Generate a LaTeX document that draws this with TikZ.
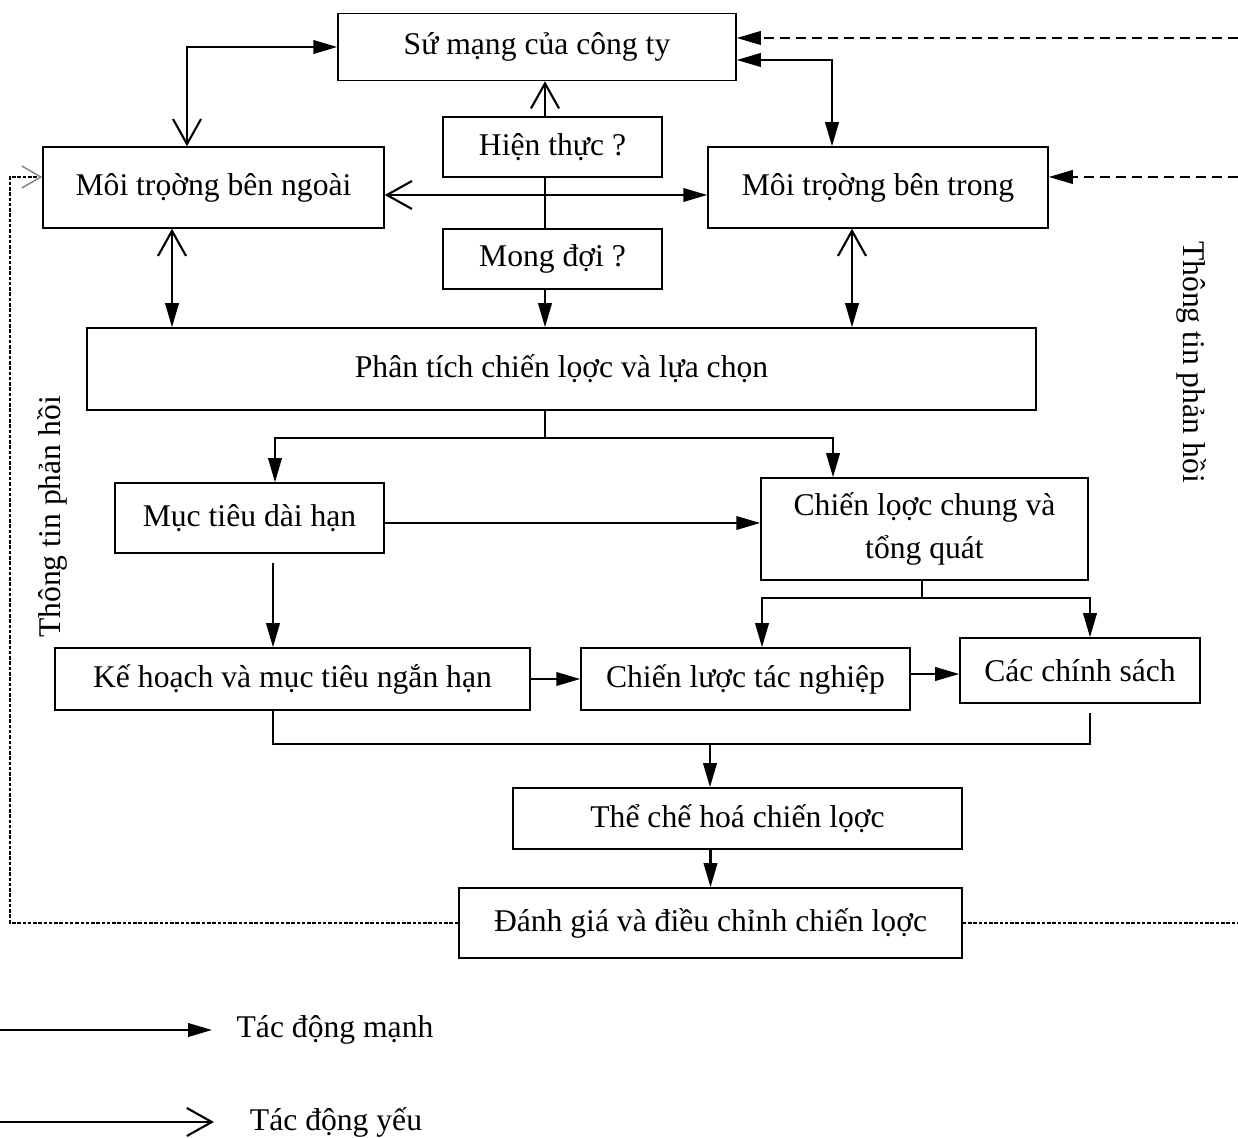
\documentclass[tikz,border=0pt]{standalone}
\usepackage{fontspec}
\setmainfont{Liberation Serif}
\usetikzlibrary{arrows.meta,positioning,calc}

\begin{document}
\begin{tikzpicture}[x=0.02cm, y=-0.02cm,
    font=\fontsize{18}{25}\selectfont,
    box/.style={draw, line width=0.9pt, align=center, inner sep=2pt},
    link/.style={line width=1.2pt},
    fbdash/.style={line width=1.2pt, dash pattern=on 0.2cm off 0.12cm},
    fbdot/.style={line width=0.8pt, dash pattern=on 2pt off 1pt},
    strong/.tip={Triangle[length=0.48cm,width=0.27cm]},
    weak/.tip={Straight Barb[length=0.5cm,width=0.56cm]},
    fbtip/.tip={Straight Barb[length=0.38cm,width=0.44cm,color=gray]}]
    \useasboundingbox (0,0) rectangle (1238,1138);

    % Top row
    \node[box, minimum width=7.96cm, minimum height=1.34cm] (suMang) at (537,47) {Sứ mạng của công ty};
    \node[box, minimum width=6.82cm, minimum height=1.62cm] (ngoai) at (213.5,187.5) {Môi trọờng bên ngoài};
    \node[box, minimum width=4.38cm, minimum height=1.2cm] (hienThuc) at (552.5,147) {Hiện thực ?};
    \node[box, minimum width=4.38cm, minimum height=1.2cm] (mongDoi) at (552.5,259) {Mong đợi ?};
    \node[box, minimum width=6.8cm, minimum height=1.62cm] (trong) at (878,187.5) {Môi trọờng bên trong};
    \node[box, minimum width=18.98cm, minimum height=1.64cm] (phanTich) at (561.5,369) {Phân tích chiến lọợc và lựa chọn};

    % Middle
    \node[box, minimum width=5.38cm, minimum height=1.4cm] (mucTieu) at (249.5,518) {Mục tiêu dài hạn};
    \node[box, minimum width=6.54cm, minimum height=2.04cm] (chungTQ) at (924.5,529) {Chiến lọợc chung và\\tổng quát};
    \node[box, minimum width=9.5cm, minimum height=1.24cm] (keHoach) at (292.5,679) {Kế hoạch và mục tiêu ngắn hạn};
    \node[box, minimum width=6.58cm, minimum height=1.24cm] (tacNghiep) at (745.5,679) {Chiến lược tác nghiệp};
    \node[box, minimum width=4.8cm, minimum height=1.3cm] (chinhSach) at (1080,670.5) {Các chính sách};

    % Bottom
    \node[box, minimum width=8.98cm, minimum height=1.22cm] (theChe) at (737.5,818.5) {Thể chế hoá chiến lọợc};
    \node[box, minimum width=10.06cm, minimum height=1.4cm] (danhGia) at (710.5,923) {Đánh giá và điều chỉnh chiến lọợc};

    % Links around the top
    \draw[link, weak-strong] ([xshift=-0.53cm]ngoai.north) |- (suMang.west);
    \draw[link, strong-strong] ([yshift=-0.26cm]suMang.east) -| ([xshift=-0.92cm]trong.north);
    \draw[link, -weak] ([xshift=-0.15cm]hienThuc.north) -- ([xshift=-0.15cm]hienThuc.north |- suMang.south);
    \draw[link] ([xshift=-0.15cm]hienThuc.south) -- ([xshift=-0.15cm]mongDoi.north);
    \draw[link, -strong] ([xshift=-0.15cm]mongDoi.south) -- ([xshift=-0.15cm]mongDoi.south |- phanTich.north);
    \draw[link, weak-strong] ([yshift=-0.15cm]ngoai.east) -- ([yshift=-0.15cm]trong.west);
    \draw[link, weak-strong] ([xshift=-0.83cm]ngoai.south) -- ([xshift=-0.83cm]ngoai.south |- phanTich.north);
    \draw[link, weak-strong] ([xshift=-0.52cm]trong.south) -- ([xshift=-0.52cm]trong.south |- phanTich.north);

    % Split under the analysis
    \coordinate (tach1) at (545,438);
    \draw[link] (tach1 |- phanTich.south) -- (tach1);
    \draw[link, -strong] (tach1) -| ([xshift=0.51cm]mucTieu.north);
    \draw[link, -strong] (tach1) -| ([xshift=-1.83cm]chungTQ.north);
    \draw[link, -strong] ([yshift=-0.1cm]mucTieu.east) -- ([yshift=-0.1cm]mucTieu.east -| chungTQ.west);
    \draw[link, -strong] ([xshift=0.47cm,yshift=-0.18cm]mucTieu.south) -- ([xshift=0.47cm]mucTieu.south |- keHoach.north);

    \coordinate (tach2) at (922,598);
    \draw[link] (tach2 |- chungTQ.south) -- (tach2);
    \draw[link, -strong] (tach2) -| ([xshift=0.33cm]tacNghiep.north);
    \draw[link, -strong] (tach2) -| ([xshift=0.2cm]chinhSach.north);
    \draw[link, -strong] (keHoach.east) -- (tacNghiep.west);
    \draw[link, -strong] ([yshift=0.1cm]tacNghiep.east) -- ([yshift=0.1cm]tacNghiep.east -| chinhSach.west);

    % Merge down
    \coordinate (gop) at (710,744);
    \draw[link, line width=1.6pt] ([xshift=-0.39cm]keHoach.south) |- (gop);
    \draw[link, line width=1.6pt] ([xshift=0.2cm,yshift=-0.18cm]chinhSach.south) |- (gop);
    \draw[link, -strong] (gop) -- (gop |- theChe.north);
    \draw[link, -strong] (theChe.south -| danhGia.north) -- (danhGia.north);

    % Feedback
    \coordinate (veTrai) at (10,177);
    \coordinate (vePhai) at (1238,923);
    \coordinate (veTren) at (1238,38);
    \coordinate (veGiua) at (1238,177);
    \draw[fbdot, -fbtip] (danhGia.west) -| (veTrai) -- (veTrai -| ngoai.west);
    \draw[fbdot] (danhGia.east) -- (vePhai);
    \draw[fbdash, -strong] (veTren) -- (veTren -| suMang.east);
    \draw[fbdash, -strong] (veGiua) -- (veGiua -| trong.east);
    \node[rotate=90] (ttTrai) at (52,517) {Thông tin phản hồi};
    \node[rotate=-90] (ttPhai) at (1192,362) {Thông tin phản hồi};

    % Legend
    \coordinate (lgA) at (0,1030);
    \coordinate (lgB) at (212,1030);
    \draw[link, -strong] (lgA) -- (lgB);
    \node (lgManh) at (335,1030) {Tác động mạnh};
    \coordinate (lgC) at (0,1122);
    \coordinate (lgD) at (214,1122);
    \draw[link, -weak] (lgC) -- (lgD);
    \node (lgYeu) at (336,1122) {Tác động yếu};
\end{tikzpicture}
\end{document}
